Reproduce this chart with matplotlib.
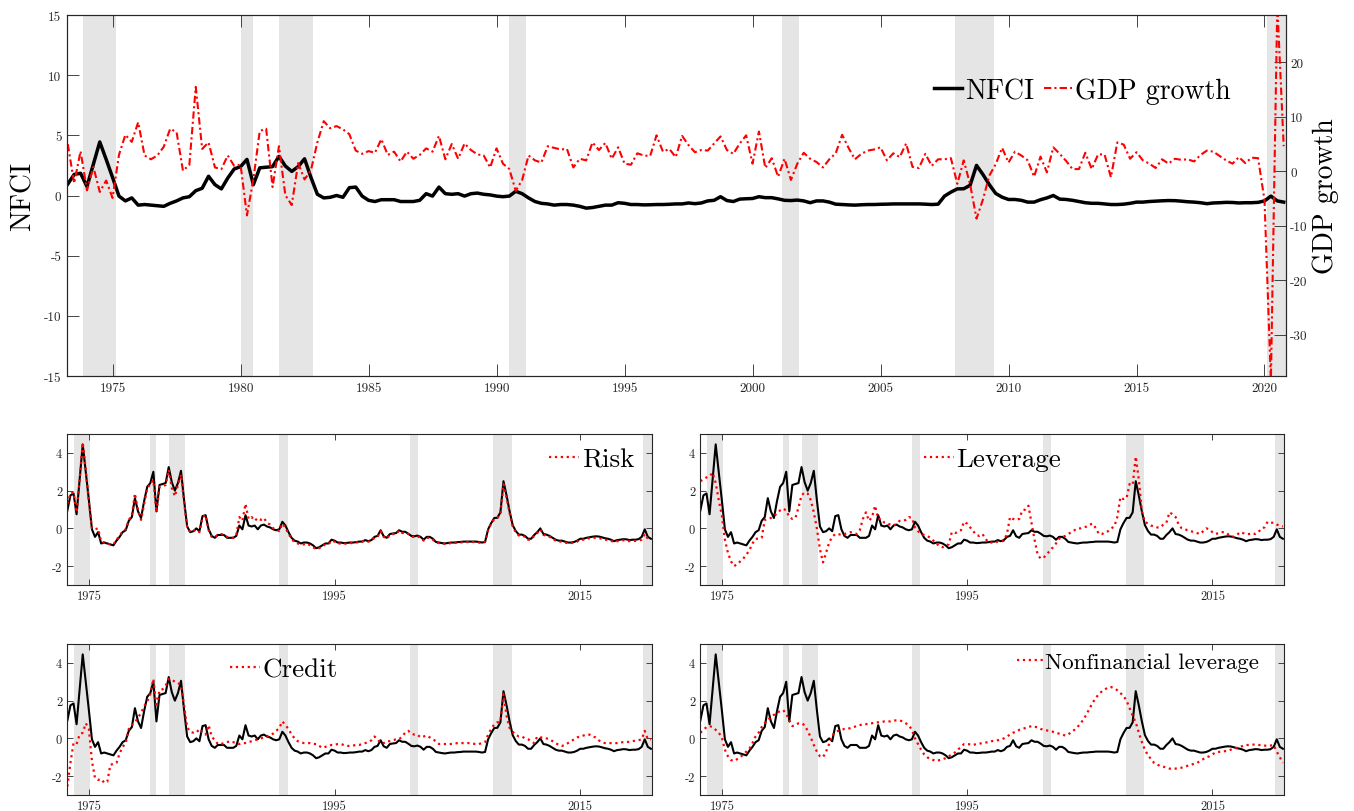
import numpy as np
import matplotlib
matplotlib.use('Agg')
import matplotlib.pyplot as plt

plt.rcParams['font.family'] = 'serif'
plt.rcParams['font.serif'] = ['cmr10']
plt.rcParams['mathtext.fontset'] = 'cm'
plt.rcParams['axes.unicode_minus'] = False

# quarterly observations, 1973Q2 .. 2020Q4
dates = np.arange(1973.25, 2020.76, 0.25)

nfci = [
    0.95, 1.75, 1.85,             # 1973
    0.75, 2.6, 4.45, 3.0,         # 1974
    1.5, -0.05, -0.45, -0.2,      # 1975
    -0.8, -0.75, -0.8, -0.85,     # 1976
    -0.9, -0.65, -0.45, -0.2,     # 1977
    -0.1, 0.4, 0.6, 1.6,          # 1978
    0.9, 0.55, 1.45, 2.2,         # 1979
    2.4, 3.0, 0.9, 2.3,           # 1980
    2.35, 2.4, 3.25, 2.45,        # 1981
    2.0, 2.4, 3.05, 1.5,          # 1982
    0.1, -0.2, -0.15, 0.0,        # 1983
    -0.15, 0.65, 0.7, -0.05,      # 1984
    -0.4, -0.5, -0.35, -0.35,     # 1985
    -0.35, -0.5, -0.5, -0.5,      # 1986
    -0.4, 0.15, -0.05, 0.7,       # 1987
    0.15, 0.1, 0.15, -0.05,       # 1988
    0.15, 0.2, 0.1, 0.05,         # 1989
    -0.05, -0.1, -0.05, 0.35,     # 1990
    0.15, -0.2, -0.5, -0.65,      # 1991
    -0.7, -0.8, -0.75, -0.75,     # 1992
    -0.8, -0.9, -1.05, -1.0,      # 1993
    -0.9, -0.8, -0.8, -0.6,       # 1994
    -0.65, -0.75, -0.75, -0.78,   # 1995
    -0.77, -0.75, -0.75, -0.73,   # 1996
    -0.7, -0.7, -0.62, -0.68,     # 1997
    -0.62, -0.45, -0.4, -0.1,     # 1998
    -0.42, -0.5, -0.3, -0.27,     # 1999
    -0.25, -0.1, -0.18, -0.18,    # 2000
    -0.28, -0.4, -0.42, -0.38,    # 2001
    -0.45, -0.6, -0.45, -0.45,    # 2002
    -0.55, -0.72, -0.75, -0.78,   # 2003
    -0.8, -0.77, -0.75, -0.75,    # 2004
    -0.73, -0.72, -0.7, -0.7,     # 2005
    -0.7, -0.7, -0.7, -0.72,      # 2006
    -0.75, -0.72, -0.05, 0.28,    # 2007
    0.55, 0.56, 0.85, 2.5,        # 2008
    1.75, 0.9, 0.17, -0.14,       # 2009
    -0.33, -0.33, -0.4, -0.55,    # 2010
    -0.55, -0.35, -0.2, 0.0,      # 2011
    -0.3, -0.33, -0.4, -0.5,      # 2012
    -0.6, -0.65, -0.65, -0.7,     # 2013
    -0.75, -0.75, -0.72, -0.65,   # 2014
    -0.55, -0.55, -0.5, -0.47,    # 2015
    -0.44, -0.42, -0.43, -0.47,   # 2016
    -0.52, -0.55, -0.6, -0.68,    # 2017
    -0.62, -0.6, -0.57, -0.58,    # 2018
    -0.62, -0.6, -0.6, -0.57,     # 2019
    -0.45, -0.05, -0.45, -0.55,   # 2020
]

# real GDP growth, annualized quarterly rate
gdp = [
    5.0, -2.2, 3.7,               # 1973
    -3.5, 0.8, -3.8, -1.7,        # 1974
    -4.9, 3.0, 6.7, 5.4,          # 1975
    9.0, 2.9, 2.2, 2.9,           # 1976
    4.5, 7.8, 7.2, 0.1,           # 1977
    1.2, 15.5, 4.1, 5.3,          # 1978
    0.7, 0.4, 2.9, 1.0,           # 1979
    1.2, -8.1, -1.5, 7.4,         # 1980
    7.8, -2.9, 4.6, -4.4,         # 1981
    -6.2, 1.5, -1.5, 0.2,         # 1982
    5.3, 9.2, 7.9, 8.3,           # 1983
    7.7, 6.8, 3.8, 3.2,           # 1984
    3.7, 3.4, 5.9, 3.0,           # 1985
    3.6, 1.8, 3.6, 2.3,           # 1986
    3.0, 4.2, 3.6, 6.5,           # 1987
    2.2, 5.0, 2.3, 5.1,           # 1988
    3.9, 3.1, 2.9, 0.7,           # 1989
    4.2, 1.4, 0.4, -3.6,          # 1990
    -1.6, 2.9, 2.0, 1.6,          # 1991
    4.6, 4.3, 4.0, 4.1,           # 1992
    0.7, 2.3, 2.0, 5.3,           # 1993
    3.9, 5.2, 2.3, 4.4,           # 1994
    1.4, 1.2, 3.3, 2.9,           # 1995
    2.8, 6.6, 3.6, 4.1,           # 1996
    2.6, 6.5, 4.8, 3.5,           # 1997
    3.9, 3.8, 5.1, 6.4,           # 1998
    3.9, 3.2, 5.1, 6.6,           # 1999
    1.4, 7.3, 0.6, 2.4,           # 2000
    -1.0, 2.3, -1.6, 1.4,         # 2001
    3.4, 2.3, 1.7, 0.7,           # 2002
    2.2, 3.3, 6.7, 4.3,           # 2003
    2.2, 3.2, 3.8, 4.0,           # 2004
    4.4, 2.0, 3.3, 2.6,           # 2005
    5.1, 0.8, 0.6, 3.2,           # 2006
    1.0, 2.2, 2.2, 2.4,           # 2007
    -2.3, 2.0, -2.4, -8.7,        # 2008
    -5.2, -0.8, 1.3, 4.3,         # 2009
    1.6, 3.6, 2.9, 2.0,           # 2010
    -1.0, 2.7, -0.2, 4.4,         # 2011
    3.2, 1.9, 0.4, 0.4,           # 2012
    3.4, 0.4, 3.1, 3.1,           # 2013
    -1.1, 5.3, 4.9, 2.3,          # 2014
    3.5, 2.0, 1.4, 0.6,           # 2015
    2.2, 1.4, 2.3, 2.1,           # 2016
    2.2, 1.8, 3.0, 3.8,           # 2017
    3.6, 2.8, 2.0, 1.4,           # 2018
    2.6, 1.5, 2.5, 2.4,           # 2019
    -5.3, -38.5, 30.5, 4.6,       # 2020
]

risk = [
    1.3, 1.85, 1.9,
    0.85, 2.6, 4.55, 3.1,
    1.4, 0.0, -0.05, 0.0,
    -0.7, -0.75, -0.8, -0.85,
    -0.85, -0.6, -0.4, -0.15,
    -0.05, 0.45, 0.7, 1.85,
    0.95, 0.45, 1.3, 2.1,
    2.35, 2.55, 0.85, 2.2,
    2.25, 2.3, 3.1, 2.15,
    1.7, 2.3, 2.85, 1.4,
    0.05, -0.2, -0.15, -0.05,
    -0.2, 0.6, 0.7, -0.1,
    -0.45, -0.45, -0.35, -0.3,
    -0.35, -0.45, -0.5, -0.5,
    -0.35, 0.6, 0.4, 1.3,
    0.5, 0.6, 0.4, 0.55,
    0.45, 0.55, 0.3, 0.2,
    0.0, -0.05, -0.15, 0.25,
    0.05, -0.3, -0.55, -0.75,
    -0.8, -0.85, -0.85, -0.8,
    -0.9, -1.0, -1.1, -1.05,
    -0.95, -0.85, -0.85, -0.65,
    -0.7, -0.8, -0.8, -0.82,
    -0.8, -0.78, -0.77, -0.75,
    -0.73, -0.7, -0.65, -0.7,
    -0.65, -0.5, -0.45, -0.15,
    -0.45, -0.55, -0.35, -0.3,
    -0.3, -0.12, -0.25, -0.22,
    -0.3, -0.45, -0.45, -0.42,
    -0.5, -0.65, -0.5, -0.5,
    -0.6, -0.75, -0.78, -0.8,
    -0.82, -0.8, -0.78, -0.77,
    -0.76, -0.75, -0.73, -0.72,
    -0.73, -0.72, -0.72, -0.75,
    -0.78, -0.72, -0.1, 0.25,
    0.5, 0.55, 0.75, 2.35,
    1.6, 0.8, 0.1, -0.2,
    -0.38, -0.38, -0.45, -0.6,
    -0.6, -0.4, -0.25, -0.05,
    -0.35, -0.38, -0.45, -0.55,
    -0.65, -0.7, -0.7, -0.75,
    -0.78, -0.78, -0.75, -0.7,
    -0.6, -0.6, -0.55, -0.52,
    -0.5, -0.5, -0.52, -0.55,
    -0.6, -0.62, -0.66, -0.72,
    -0.68, -0.66, -0.63, -0.65,
    -0.68, -0.67, -0.66, -0.65,
    -0.6, -0.3, -0.55, -0.65,
]

leverage = [
    2.5, 2.6, 2.7,
    2.75, 2.95, 2.4, 1.5,
    0.7, -0.6, -1.3, -1.75,
    -2.0, -1.9, -1.75, -1.6,
    -1.4, -1.15, -0.8, -0.55,
    -0.55, -0.5, 0.45, 0.5,
    0.55, 0.65, 0.8, 0.95,
    1.05, 0.95, 0.6, 0.5,
    0.55, 1.1, 1.75, 1.9,
    1.85, 1.5, 0.85, 0.0,
    -1.1, -1.8, -1.3, -0.75,
    -0.45, -0.3, -0.3, -0.35,
    -0.3, -0.25, -0.2, -0.25,
    -0.3, -0.1, 0.5, 0.85,
    0.4, 0.6, 1.2, 0.5,
    0.5, 0.3, 0.25, 0.2,
    0.15, 0.25, 0.4, 0.4,
    0.45, 0.6, 0.55, 0.05,
    -0.15, -0.3, -0.35, -0.4,
    -0.5, -0.65, -0.8, -0.95,
    -1.0, -0.9, -0.85, -0.2,
    -0.25, -0.2, -0.1, 0.35,
    0.25, 0.05, -0.15, -0.35,
    -0.4, -0.3, -0.55, -0.75,
    -0.75, -0.75, -0.7, -0.7,
    -0.65, -0.3, 0.6, 0.5,
    0.45, 0.5, 0.95, 1.0,
    1.2, 0.3, -0.6, -1.4,
    -1.6, -1.55, -1.35, -1.2,
    -1.0, -0.8, -0.55, -0.45,
    -0.4, -0.3, -0.2, -0.1,
    0.0, 0.0, 0.05, 0.1,
    0.2, 0.25, 0.0, -0.3,
    -0.3, -0.2, -0.15, 0.0,
    0.1, 0.6, 1.65, 1.55,
    1.6, 2.35, 2.3, 3.8,
    2.6, 0.9, 0.35, 0.25,
    0.15, 0.1, 0.05, 0.05,
    0.2, 0.3, 0.85, 0.75,
    0.6, 0.2, 0.0, -0.05,
    -0.1, -0.15, -0.2, -0.25,
    -0.3, -0.15, 0.0, -0.05,
    -0.2, -0.3, -0.25, -0.2,
    -0.2, -0.3, -0.4, -0.45,
    -0.35, -0.2, -0.25, -0.3,
    -0.3, -0.25, -0.3, -0.2,
    0.0, 0.05, 0.35, 0.3,
    0.3, 0.2, 0.15, 0.1,
]

credit = [
    -2.55, -1.3, -0.25,
    -0.3, 0.2, 0.3, 0.8,
    0.5, -1.2, -2.1, -2.2,
    -2.15, -2.35, -2.3, -1.4,
    -1.35, -1.3, -0.8, -0.45,
    -0.25, 0.5, 0.7, 0.85,
    1.1, 1.35, 1.7, 1.95,
    2.35, 3.15, 1.65, 2.55,
    2.6, 2.8, 3.15, 3.1,
    3.0, 2.95, 2.8, 1.75,
    0.6, 0.35, 0.3, 0.3,
    0.5, 0.3, 0.2, 0.7,
    0.1, -0.1, -0.3, -0.3,
    -0.25, -0.2, -0.15, -0.2,
    -0.25, -0.3, -0.25, -0.25,
    -0.2, -0.15, -0.1, -0.05,
    0.0, 0.05, 0.1, 0.2,
    0.25, 0.4, 0.55, 0.9,
    0.7, 0.5, 0.2, 0.0,
    -0.15, -0.2, -0.25, -0.25,
    -0.25, -0.3, -0.3, -0.4,
    -0.5, -0.45, -0.4, -0.35,
    -0.35, -0.3, -0.3, -0.35,
    -0.4, -0.4, -0.38, -0.35,
    -0.35, -0.3, -0.25, -0.2,
    -0.1, 0.1, -0.05, -0.25,
    -0.25, -0.15, -0.15, -0.1,
    -0.05, -0.05, 0.1, 0.3,
    0.4, 0.25, 0.2, 0.2,
    0.05, 0.1, 0.15, 0.05,
    -0.05, -0.15, -0.3, -0.3,
    -0.3, -0.3, -0.3, -0.28,
    -0.25, -0.25, -0.25, -0.25,
    -0.25, -0.28, -0.3, -0.3,
    -0.25, -0.2, 0.2, 0.5,
    0.75, 0.85, 0.9, 2.35,
    1.2, 0.55, 0.35, 0.2,
    0.1, 0.1, 0.0, -0.05,
    -0.15, -0.25, 0.1, 0.05,
    0.05, 0.0, -0.05, -0.15,
    -0.25, -0.35, -0.4, -0.35,
    -0.25, -0.15, -0.05, 0.05,
    0.1, 0.15, 0.2, 0.2,
    0.1, 0.05, -0.1, -0.2,
    -0.25, -0.25, -0.25, -0.25,
    -0.25, -0.22, -0.2, -0.2,
    -0.18, -0.15, -0.12, -0.1,
    -0.05, 0.4, -0.05, -0.05,
]

nonfin_leverage = [
    0.3, 0.45, 0.6,
    0.65, 0.6, 0.45, 0.3,
    0.05, -0.6, -0.95, -1.15,
    -1.2, -1.1, -1.0, -0.85,
    -0.7, -0.55, -0.25, 0.1,
    0.3, 0.6, 0.8, 1.0,
    1.1, 1.25, 1.35, 1.45,
    1.5, 1.3, 0.95, 0.65,
    0.7, 0.8, 0.8, 0.7,
    0.4, 0.05, -0.35, -0.7,
    -0.95, -1.0, -0.7, -0.3,
    0.15, 0.35, 0.4, 0.45,
    0.5, 0.5, 0.55, 0.6,
    0.65, 0.7, 0.75, 0.75,
    0.8, 0.8, 0.85, 0.85,
    0.85, 0.9, 0.9, 0.9,
    0.95, 0.95, 0.95, 0.9,
    0.8, 0.7, 0.45, 0.0,
    -0.3, -0.6, -0.85, -1.0,
    -1.1, -1.15, -1.2, -1.15,
    -1.1, -1.05, -0.95, -0.85,
    -0.75, -0.6, -0.45, -0.3,
    -0.3, -0.32, -0.35, -0.3,
    -0.28, -0.25, -0.22, -0.2,
    -0.15, -0.12, -0.1, -0.05,
    0.0, 0.1, 0.2, 0.3,
    0.35, 0.45, 0.5, 0.55,
    0.6, 0.65, 0.62, 0.58,
    0.5, 0.45, 0.42, 0.4,
    0.35, 0.3, 0.25, 0.2,
    0.15, 0.2, 0.35, 0.45,
    0.6, 0.8, 1.0, 1.3,
    1.6, 1.9, 2.15, 2.35,
    2.5, 2.6, 2.7, 2.72,
    2.65, 2.55, 2.4, 2.25,
    2.0, 1.6, 1.2, 0.85,
    0.3, -0.2, -0.6, -0.9,
    -1.1, -1.3, -1.4, -1.45,
    -1.5, -1.55, -1.6, -1.62,
    -1.6, -1.58, -1.55, -1.5,
    -1.45, -1.4, -1.35, -1.3,
    -1.2, -1.1, -1.0, -0.95,
    -0.85, -0.75, -0.72, -0.7,
    -0.68, -0.65, -0.6, -0.55,
    -0.5, -0.45, -0.4, -0.35,
    -0.35, -0.33, -0.33, -0.35,
    -0.35, -0.38, -0.4, -0.38,
    -0.35, -0.7, -1.0, -1.3,
]

# NBER recessions
rec_start = [1973.83, 1980.0, 1981.5, 1990.5, 2001.17, 2007.92, 2020.08]
rec_end = [1975.12, 1980.5, 1982.83, 1991.17, 2001.83, 2009.42, 2020.9]

for s in [nfci, gdp, risk, leverage, credit, nonfin_leverage]:
    assert len(s) == len(dates)

xlim = (1973.22, 2020.84)
shade = '#e5e5e5'
axcol = '#262626'

W, H = 1354, 812
fig = plt.figure(figsize=(W / 100, H / 100), dpi=100)


def px_axes(x0, y0, x1, y1):
    return fig.add_axes([x0 / W, 1 - y1 / H, (x1 - x0) / W, (y1 - y0) / H])


def style_spines(a):
    for sp in a.spines.values():
        sp.set_color(axcol)
        sp.set_linewidth(0.8)


# top panel: NFCI against GDP growth
ax = px_axes(67, 16, 1286, 377)
for s, e in zip(rec_start, rec_end):
    ax.axvspan(s, e, color=shade, lw=0)
ln_nfci, = ax.plot(dates, nfci, color='k', lw=2.5)
ax.set_xlim(xlim)
ax.set_ylim(-15, 15)
ax.set_xticks(np.arange(1975, 2021, 5))
ax.set_yticks(np.arange(-15, 16, 5))
ax.tick_params(axis='x', direction='in', top=True, bottom=True, length=8.5,
               width=0.6, labelsize=9.5, colors=axcol, pad=4)
ax.tick_params(axis='y', direction='in', left=True, right=False, length=8.5,
               width=0.6, labelsize=9.5, colors=axcol, pad=4)
ax.set_ylabel('NFCI', fontsize=20, color='k')
ax.yaxis.set_label_coords(-0.025, 0.5)
style_spines(ax)

ax2 = ax.twinx()
ln_gdp, = ax2.plot(dates, gdp, color='red', lw=1.5,
                   ls=(0, (3.5, 1.5, 1, 1.5)))
ax2.set_ylim(-37.6, 28.7)
ax2.set_yticks(np.arange(-30, 21, 10))
ax2.tick_params(axis='y', direction='in', right=True, left=False, length=8.5,
                width=0.6, labelsize=9.5, colors=axcol, pad=3)
ax2.set_ylabel('GDP growth', fontsize=20, color='k')
ax2.yaxis.set_label_coords(1.022, 0.5)
style_spines(ax2)
ax2.legend([ln_nfci, ln_gdp], ['NFCI', 'GDP growth'], ncol=2, loc='center',
           bbox_to_anchor=(0.833, 0.79), frameon=False, fontsize=20,
           handlelength=1.0, handletextpad=0.12, columnspacing=0.35)


# four sub-index panels
def small_panel(box, series, name, anchor, fsize):
    a = px_axes(*box)
    for s, e in zip(rec_start, rec_end):
        a.axvspan(s, e, color=shade, lw=0)
    a.plot(dates, nfci, color='k', lw=1.5)
    a.plot(dates, series, color='red', ls=':', lw=1.6, label=name)
    a.set_xlim(xlim)
    a.set_ylim(-3, 5)
    a.set_xticks([1975, 1995, 2015])
    a.set_yticks([-2, 0, 2, 4])
    a.tick_params(direction='in', top=True, right=True, length=4.5,
                  width=0.6, labelsize=9, colors=axcol, pad=3.5)
    style_spines(a)
    a.legend(loc='center', bbox_to_anchor=anchor, frameon=False,
             fontsize=fsize, handlelength=1.1, handletextpad=0.1)
    return a


small_panel((67, 435, 652, 586), risk, 'Risk', (0.897, 0.834), 19.5)
small_panel((700, 435, 1284, 586), leverage, 'Leverage', (0.501, 0.834), 19.5)
small_panel((67, 645, 652, 796), credit, 'Credit', (0.371, 0.834), 19.5)
small_panel((700, 645, 1284, 796), nonfin_leverage, 'Nonfinancial leverage',
            (0.75, 0.88), 16.5)

fig.savefig('out.png', dpi=100)
